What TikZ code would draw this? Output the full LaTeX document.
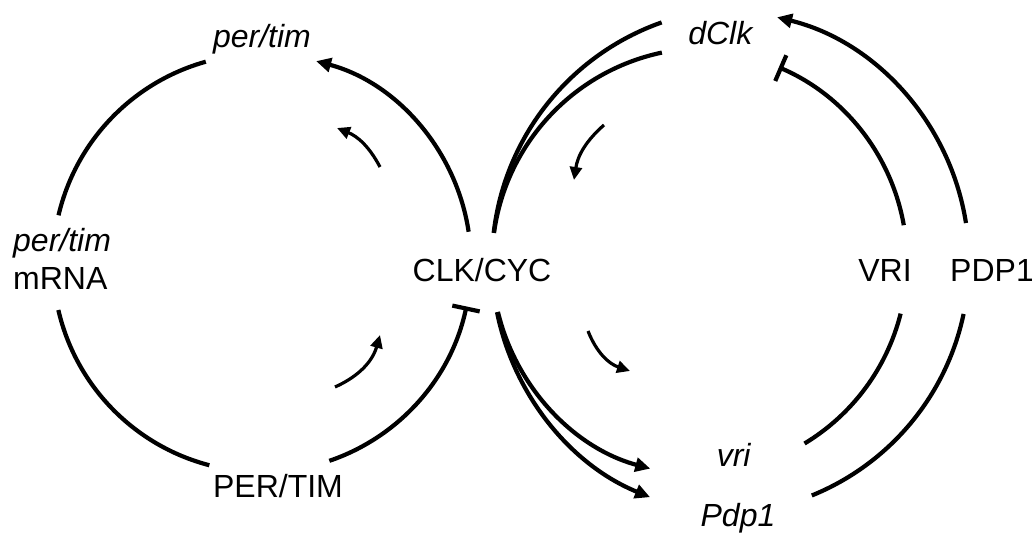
\documentclass[tikz,border=0pt]{standalone}
\usepackage{fontspec}
\setmainfont{Liberation Sans}
\usetikzlibrary{arrows.meta}

\begin{document}
\begin{tikzpicture}[x=1pt,y=1pt,
  lbl/.style={anchor=base,inner sep=0pt,font=\fontsize{32}{38}\selectfont},
  cyc/.style={line width=4.2pt},
  act/.style={cyc,-{Triangle[length=15pt,width=14pt]}},
  rep/.style={cyc,-{Bar[width=28pt]}},
  small/.style={line width=3.2pt,-{Triangle[length=13pt,width=12pt]}}]
\useasboundingbox (0,0) rectangle (1032,534);

\coordinate (cL) at (262,271);
\coordinate (cR) at (695,272);
\coordinate (cRi) at (706,272);
\coordinate (cRo) at (746,272);
\coordinate (cP) at (717,272);

\node (PT) at (262,486) [lbl] {\textit{per/tim}};
\node (MR) at (13,244) [lbl,anchor=base west,align=left] {\textit{per/tim}\\mRNA};
\node (CC) at (482,252) [lbl] {CLK/CYC};
\node (PTp) at (278,36) [lbl] {PER/TIM};
\node (DC) at (721,489) [lbl] {\textit{dClk}};
\node (VR) at (885,252) [lbl] {VRI};
\node (PD) at (992,252) [lbl] {PDP1};
\node (VRg) at (734,67) [lbl] {\textit{vri}};
\node (PDg) at (738,7) [lbl] {\textit{Pdp1}};

% per/tim loop
\draw [cyc] ([shift={(166.8:209)}]cL) arc[start angle=166.8, end angle=105.6, radius=209];
\draw [act] ([shift={(8.6:209)}]cL) arc[start angle=8.6, end angle=75, radius=209];
\draw [cyc] ([shift={(193:209)}]cL) arc[start angle=193, end angle=255.4, radius=209];
\draw [rep] ([shift={(288.8:209)}]cL) arc[start angle=288.8, end angle=348, radius=209];

% dClk / vri / Pdp1 loop
\draw [cyc] ([shift={(172.2:214)}]cRi) arc[start angle=172.2, end angle=101.9, radius=214];
\draw [act] ([shift={(193.5:214)}]cRi) arc[start angle=193.5, end angle=254.9, radius=214];
\draw [cyc] ([shift={(173.4:254)}]cRo) arc[start angle=173.4, end angle=109.4, radius=254];
\draw [act] ([shift={(191.4:254)}]cRo) arc[start angle=191.4, end angle=247.8, radius=254];
\draw [rep] ([shift={(10:212)}]cR) arc[start angle=10, end angle=66.7, radius=212];
\draw [cyc] ([shift={(-14.1:212)}]cR) arc[start angle=-14.1, end angle=-58.9, radius=212];
\draw [act] ([shift={(8.9:252)}]cP) arc[start angle=8.9, end angle=76.2, radius=252];
\draw [cyc] ([shift={(-11.9:252)}]cP) arc[start angle=-11.9, end angle=-67.9, radius=252];

% direction arrows
\coordinate (s1) at (380,367);
\coordinate (e1) at (337,406);
\coordinate (s2) at (335,147);
\coordinate (e2) at (380,199);
\coordinate (s3) at (604,409);
\coordinate (e3) at (574,354);
\coordinate (s4) at (588,203);
\coordinate (e4) at (630,163);
\draw [small] (s1) to[bend right=20] (e1);
\draw [small] (s2) to[bend right=25] (e2);
\draw [small] (s3) to[bend right=20] (e3);
\draw [small] (s4) to[bend right=25] (e4);
\end{tikzpicture}
\end{document}
